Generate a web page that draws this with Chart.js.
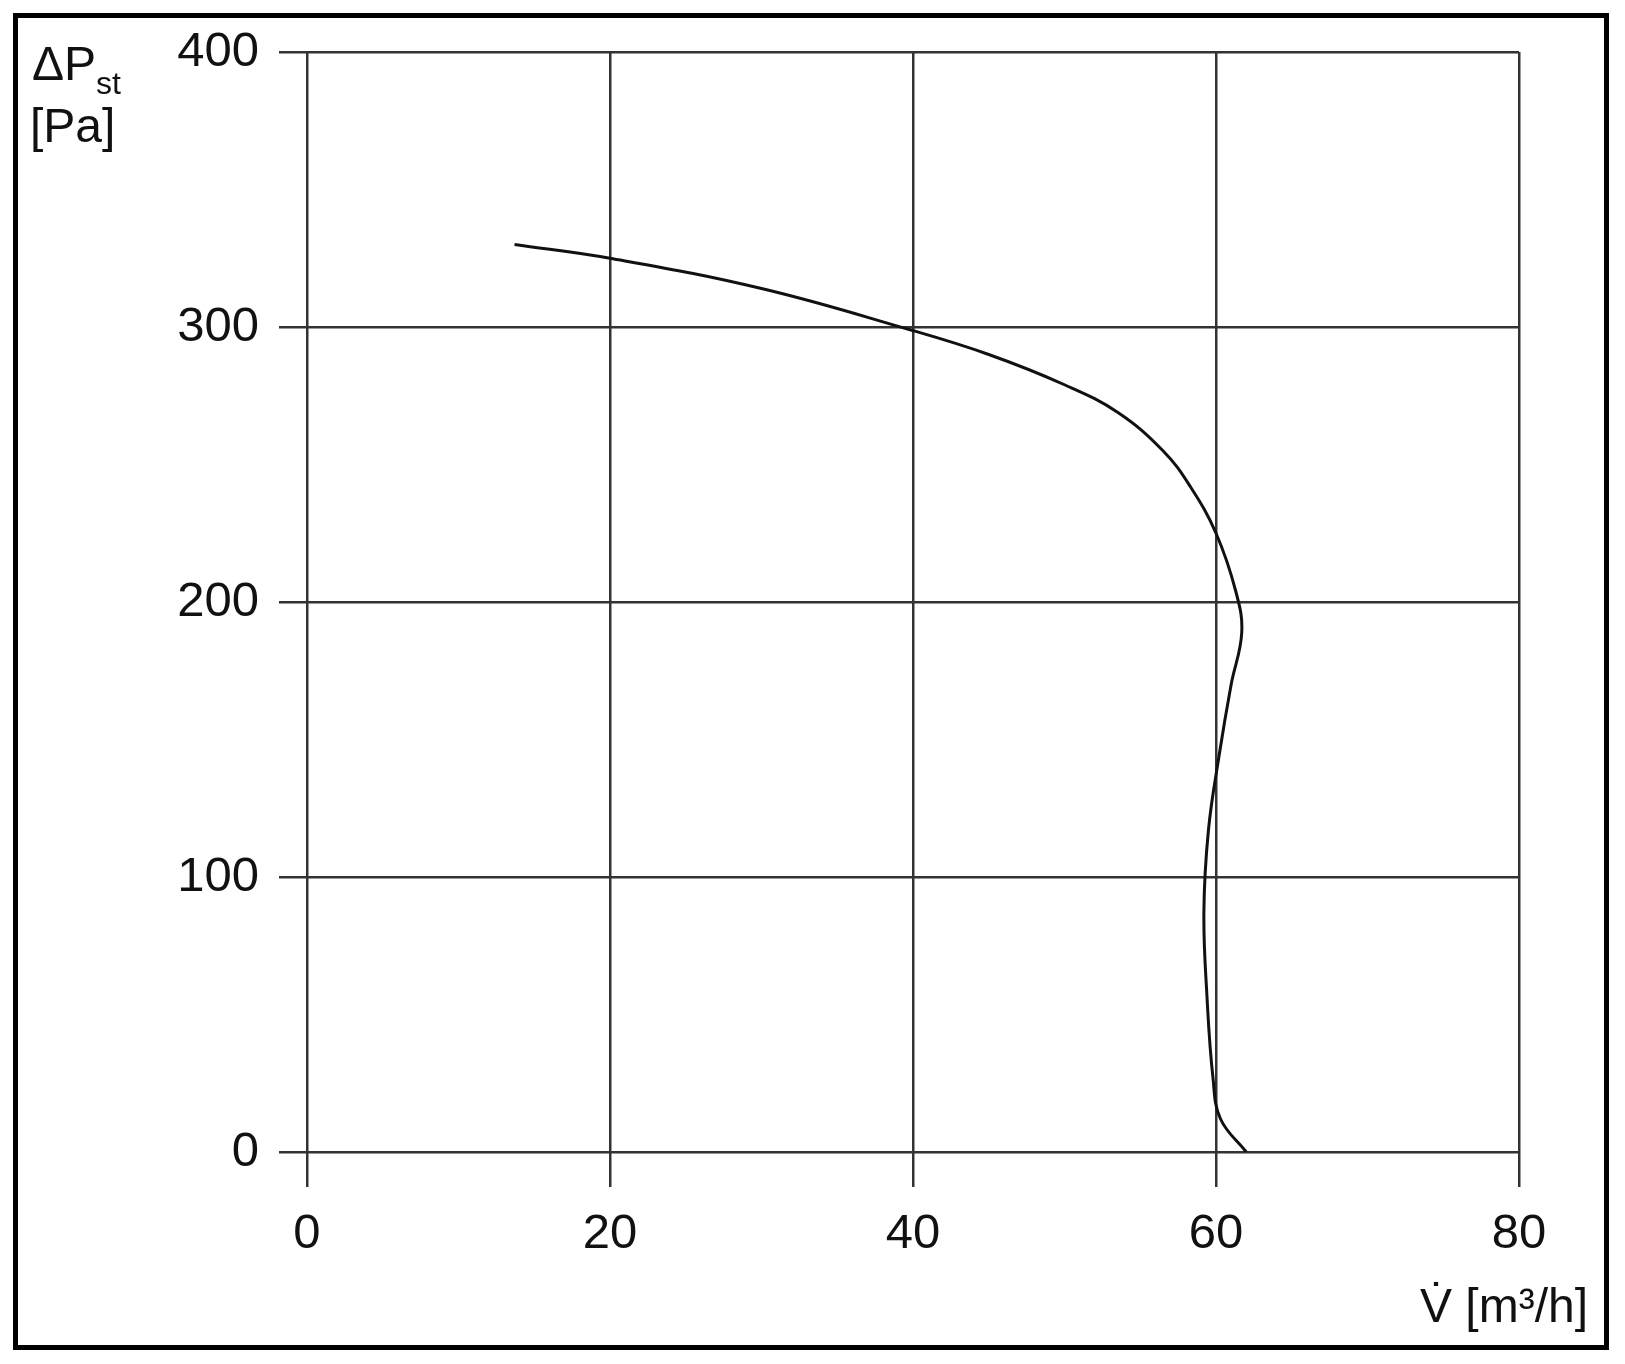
<!DOCTYPE html>
<html><head><meta charset="utf-8">
<script src="https://cdn.jsdelivr.net/npm/chart.js@4"></script>
<style>
html,body{margin:0;padding:0;background:#fff;}
#wrap{position:relative;width:1625px;height:1364px;}
#frame{position:absolute;left:13px;top:13px;border:5px solid #000;box-sizing:border-box;width:1596px;height:1337px;pointer-events:none;}
canvas{position:absolute;left:0;top:0;}
.lbl{position:absolute;font-family:"Liberation Sans",Arial,sans-serif;font-size:48px;color:#111;line-height:1;}
</style></head><body>
<div id="wrap">
<canvas id="c" width="1625" height="1364"></canvas>
<div id="frame"></div>
<div class="lbl" style="left:32px;top:40px;">ΔP<span style="font-size:32px;position:relative;top:14px;">st</span></div>
<div class="lbl" style="left:30px;top:102px;">[Pa]</div>
<div class="lbl" style="left:1420px;top:1282px;">V̇ [m³/h]</div>
</div>
<script>
const flowValues = [13.7, 20, 30, 39.8, 45, 50, 53.5, 56.5, 58.3, 60, 61.3, 61.7, 61, 60.2, 59.5, 59.2, 59.4, 59.8, 60.3, 62];
const pressureValues = [330, 325, 314, 299, 290, 279, 269, 255, 242, 225, 204, 189, 170, 144, 117, 87, 57, 27, 12, 0];
const xTicks = [0, 20, 40, 60, 80];
const yTicks = [0, 100, 200, 300, 400];
const pts = flowValues.map((v, i) => ({x: v, y: pressureValues[i]}));
const font = {family: '"Liberation Sans", Arial, sans-serif', size: 49};
new Chart(document.getElementById('c'), {
  type: 'scatter',
  data: {datasets: [{data: pts, showLine: true, tension: 0.4, borderColor: '#111', borderWidth: 3, pointRadius: 0, fill: false}]},
  options: {
    responsive: false, animation: false,
    layout: {padding: {top: 52, right: 106, left: 0, bottom: 0}},
    plugins: {legend: {display: false}, tooltip: {enabled: false}},
    scales: {
      x: {min: 0, max: 80,
        afterBuildTicks: s => { s.ticks = xTicks.map(v => ({value: v})); },
        afterFit: s => { s.height = 212; },
        grid: {color: '#333', lineWidth: 2.5, tickLength: 35, drawTicks: true},
        border: {display: false},
        ticks: {font, color: '#111', padding: 18}},
      y: {min: 0, max: 400,
        afterBuildTicks: s => { s.ticks = yTicks.map(v => ({value: v})); },
        afterFit: s => { s.width = 307; },
        grid: {color: '#333', lineWidth: 2.5, tickLength: 28, drawTicks: true},
        border: {display: false},
        ticks: {font, color: '#111', padding: 20}}
    }
  }
});
</script>
</body></html>
